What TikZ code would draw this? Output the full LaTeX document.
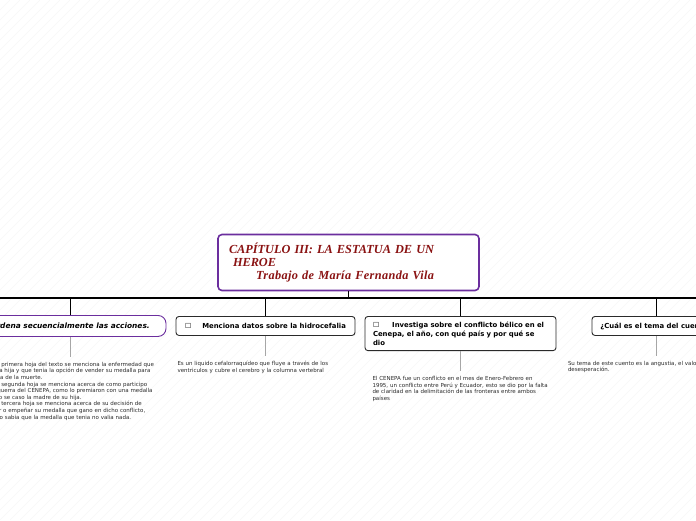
\documentclass[tikz,border=0pt]{standalone}
\usepackage{fontspec}
\setmainfont{DejaVu Sans}
\newfontfamily\titlefont{Liberation Serif}
\usetikzlibrary{positioning}
\definecolor{mapviolet}{HTML}{6B2E9E}
\definecolor{mapred}{HTML}{8A1212}
\definecolor{mapink}{HTML}{2A2A2A}
\begin{document}
\begin{tikzpicture}[x=1pt, y=-1pt,
    rootbox/.style={draw=mapviolet, line width=1.6pt, rounded corners=4pt, fill=white,
        minimum width=261pt, minimum height=56pt, text width=239pt, align=left, inner sep=0pt,
        text=mapred, font=\titlefont\bfseries\itshape\fontsize{12.3}{13}\selectfont},
    topic/.style={draw=mapink, line width=0.9pt, rounded corners=3pt, fill=white, anchor=north,
        minimum height=19pt, inner xsep=8pt, inner ysep=3pt,
        font=\bfseries\fontsize{6.9}{8.6}\selectfont},
    note/.style={below=25pt of #1, text width=176pt, align=left, inner sep=0pt,
        text=mapink, font=\fontsize{5.5}{6.6}\selectfont},
    bus/.style={line width=1.5pt, black},
    branch/.style={line width=0.9pt, black},
    stem/.style={line width=0.8pt, gray!70}]
    \useasboundingbox (0,0) rectangle (696,520);
    \clip (0,0) rectangle (696,520);
    \foreach \i in {-520,-510,...,700}
        \draw[gray!6, line width=0.4pt] (\i,520) -- (\i+520,0);

    \node[rootbox] (root) at (348.5,262.5) {CAPÍTULO III: LA ESTATUA DE UN\\
        \hspace*{4pt}HEROE\\
        \hspace*{27pt}{\addfontfeature{LetterSpace=3}Trabajo de María Fernanda Vila}};

    \node[topic, draw=mapviolet, rounded corners=8pt, minimum width=192pt, minimum height=21pt,
        font=\bfseries\itshape\fontsize{7.4}{9}\selectfont] (acciones) at (70,315)
        {Ordena secuencialmente las acciones.};
    \node[topic, minimum width=179pt] (datos) at (265.5,316)
        {☐\hspace{11pt}Menciona datos sobre la hidrocefalia};
    \node[topic, text width=175pt, align=left, inner ysep=5.5pt,
        font=\bfseries\fontsize{6.9}{8.8}\selectfont] (conflicto) at (460.5,316)
        {☐\hspace{13pt}Investiga sobre el conflicto bélico en el\\Cenepa, el año, con qué país y por qué se\\dio};
    \node[topic, minimum width=128pt] (tema) at (656,316) {¿Cuál es el tema del cuento?};

    \node[note=acciones] (accionesTxt) {- En la primera hoja del texto se menciona la enfermedad que\\
        tenia la hija y que tenia la opción de vender su medalla para\\
        salvarla de la muerte.\\
        - En la segunda hoja se menciona acerca de como participo\\
        en la guerra del CENEPA, como lo premiaron con una medalla\\
        y como se caso la madre de su hija.\\
        - En la tercera hoja se menciona acerca de su decisión de\\
        vender o empeñar su medalla que gano en dicho conflicto,\\
        pero no sabia que la medalla que tenia no valia nada.};
    \node[note=datos] (datosTxt) {Es un liquido cefalorraquídeo que fluye a través de los\\
        ventriculos y cubre el cerebro y la columna vertebral};
    \node[note=conflicto] (conflictoTxt) {El CENEPA fue un conflicto en el mes de Enero-Febrero en\\
        1995, un conflicto entre Perú y Ecuador, esto se dio por la falta\\
        de claridad en la delimitación de las fronteras entre ambos\\
        países};
    \node[note=tema] (temaTxt) {Su tema de este cuento es la angustia, el valor y la\\
        desesperación.};

    \coordinate (busL) at (-40,298);
    \coordinate (busR) at (740,298);
    \draw[bus] (busL) -- (busR);
    \draw[bus] (root) -- (root.south |- busL);
    \foreach \t in {acciones, datos, conflicto, tema} {
        \draw[branch] (\t.north |- busL) -- (\t);
        \draw[stem] (\t) -- ([yshift=5pt]\t Txt.north);
    }
\end{tikzpicture}
\end{document}
